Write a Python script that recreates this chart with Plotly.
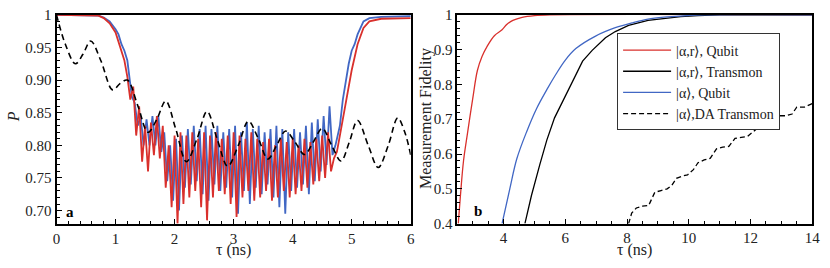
import plotly.graph_objects as go

# ---------------- Panel a data ----------------
red_pre_tau = [0.0, 0.5, 0.7, 0.8, 0.9, 1.0, 1.1, 1.15]
red_pre_p = [1.0, 1.0, 0.999, 0.995, 0.987, 0.973, 0.945, 0.93]
red_osc_tau = [round(1.20 + 0.05 * i, 3) for i in range(71)]
red_osc_p = [0.905, 0.87, 0.89, 0.815, 0.86, 0.775, 0.83, 0.76, 0.835, 0.785,
             0.845, 0.78, 0.83, 0.735, 0.80, 0.705, 0.815, 0.68, 0.82, 0.71,
             0.815, 0.72, 0.82, 0.73, 0.81, 0.705, 0.82, 0.685, 0.815, 0.72,
             0.82, 0.73, 0.81, 0.725, 0.815, 0.71, 0.82, 0.69, 0.815, 0.72,
             0.81, 0.73, 0.82, 0.715, 0.81, 0.72, 0.805, 0.73, 0.81, 0.715,
             0.80, 0.72, 0.81, 0.73, 0.805, 0.72, 0.81, 0.725, 0.80, 0.73,
             0.81, 0.735, 0.805, 0.74, 0.81, 0.745, 0.815, 0.75, 0.82, 0.76,
             0.78]
red_post_tau = [4.75, 4.8, 4.9, 5.0, 5.1, 5.2, 5.3, 5.5, 6.0]
red_post_p = [0.79, 0.815, 0.865, 0.915, 0.955, 0.98, 0.99, 0.994, 0.995]

blue_pre_tau = [0.0, 0.5, 0.7, 0.8, 0.9, 1.0, 1.05, 1.1, 1.15, 1.2]
blue_pre_p = [1.0, 1.0, 0.999, 0.996, 0.99, 0.978, 0.97, 0.955, 0.945, 0.93]
blue_osc_tau = [round(1.225 + 0.05 * i, 3) for i in range(71)]
blue_osc_p = [0.91, 0.875, 0.865, 0.83, 0.845, 0.80, 0.84, 0.80, 0.845, 0.80,
              0.845, 0.79, 0.82, 0.745, 0.80, 0.715, 0.81, 0.70, 0.815, 0.735,
              0.825, 0.74, 0.83, 0.745, 0.825, 0.725, 0.83, 0.715, 0.825, 0.74,
              0.83, 0.73, 0.82, 0.735, 0.825, 0.72, 0.83, 0.695, 0.82, 0.73,
              0.835, 0.71, 0.825, 0.735, 0.83, 0.725, 0.82, 0.74, 0.825, 0.72,
              0.83, 0.705, 0.825, 0.695, 0.82, 0.73, 0.825, 0.735, 0.82, 0.74,
              0.83, 0.725, 0.835, 0.745, 0.84, 0.76, 0.845, 0.77, 0.86, 0.785,
              0.80]
blue_post_tau = [4.8, 4.85, 4.9, 4.95, 5.0, 5.05, 5.1, 5.2, 5.3, 5.5, 6.0]
blue_post_p = [0.83, 0.87, 0.90, 0.925, 0.945, 0.955, 0.97, 0.99, 0.995, 0.997, 0.998]

dash_a_tau = [0.0, 0.15, 0.32, 0.45, 0.58, 0.75, 0.95, 1.08, 1.2, 1.38, 1.55, 1.7, 1.85,
              2.02, 2.2, 2.38, 2.55, 2.72, 2.9, 3.08, 3.25, 3.42, 3.58, 3.73, 3.88,
              4.04, 4.2, 4.35, 4.5, 4.66, 4.82, 4.96, 5.1, 5.28, 5.45, 5.62, 5.78, 5.9, 6.0]
dash_a_p = [1.0, 0.955, 0.925, 0.94, 0.96, 0.93, 0.885, 0.895, 0.90, 0.86, 0.82, 0.84, 0.868,
            0.825, 0.775, 0.81, 0.852, 0.81, 0.768, 0.80, 0.837, 0.81, 0.779, 0.80, 0.822,
            0.805, 0.786, 0.805, 0.826, 0.80, 0.776, 0.805, 0.838, 0.80, 0.766, 0.80, 0.842, 0.82, 0.785]

# ---------------- Panel b data ----------------
fid_red_tau = [2.53, 2.6, 2.7, 2.83, 3.0, 3.15, 3.3, 3.47, 3.7, 3.95, 4.1, 4.3, 4.6, 5.0, 5.5, 14.0]
fid_red_p = [0.40, 0.48, 0.58, 0.66, 0.76, 0.84, 0.88, 0.91, 0.94, 0.957, 0.972, 0.984, 0.993, 0.998, 1.0, 1.0]

fid_blue_tau = [3.95, 4.2, 4.43, 4.75, 5.07, 5.4, 5.7, 6.0, 6.34, 6.98, 7.62, 8.2, 8.68, 9.3, 9.95, 10.5, 14.0]
fid_blue_p = [0.40, 0.50, 0.587, 0.665, 0.731, 0.785, 0.83, 0.87, 0.903, 0.939, 0.963, 0.978, 0.988, 0.994, 0.998, 1.0, 1.0]

fid_black_tau = [4.69, 4.9, 5.17, 5.4, 5.65, 5.85, 6.1, 6.35, 6.56, 6.87, 7.3, 7.62, 8.05, 8.68, 9.2, 9.74, 10.3, 11.0, 14.0]
fid_black_p = [0.40, 0.48, 0.569, 0.64, 0.704, 0.74, 0.785, 0.83, 0.867, 0.898, 0.934, 0.952, 0.97, 0.984, 0.99, 0.995, 0.998, 1.0, 1.0]

fid_dash_tau = [8.05, 8.15, 8.3, 8.5, 8.7, 8.9, 9.1, 9.3, 9.45, 9.6, 9.8, 9.96, 10.15, 10.3, 10.5, 10.7,
                10.9, 11.1, 11.3, 11.5, 11.7, 11.9, 12.1, 12.3, 12.5, 12.7, 12.95, 13.15, 13.35, 13.5, 13.75, 14.0]
fid_dash_p = [0.40, 0.43, 0.445, 0.45, 0.452, 0.49, 0.495, 0.50, 0.51, 0.53, 0.537, 0.54, 0.555, 0.575, 0.583, 0.588,
              0.615, 0.62, 0.622, 0.645, 0.648, 0.65, 0.665, 0.68, 0.682, 0.685, 0.71, 0.71, 0.715, 0.735, 0.735, 0.745]

# legend labels
lab_red = "|α,r⟩, Qubit"
lab_black = "|α,r⟩, Transmon"
lab_blue = "|α⟩, Qubit"
lab_dash = "|α⟩,DA Transmon"

# tick labels
a_xticks = [0, 1, 2, 3, 4, 5, 6]
a_yticks = [0.70, 0.75, 0.80, 0.85, 0.90, 0.95, 1.0]
a_ytext = ["0.70", "0.75", "0.80", "0.85", "0.90", "0.95", "1"]
b_xticks = [4, 6, 8, 10, 12, 14]
b_yticks = [0.4, 0.5, 0.6, 0.7, 0.8, 0.9, 1.0]
b_ytext = ["0.4", "0.5", "0.6", "0.7", "0.8", "0.9", "1"]

RED = "#d9302c"
BLUE = "#4167c4"
FONT = "Liberation Serif"

fig = go.Figure()

# Panel a
fig.add_trace(go.Scatter(x=blue_pre_tau + blue_osc_tau + blue_post_tau,
                         y=blue_pre_p + blue_osc_p + blue_post_p,
                         mode="lines", line=dict(color=BLUE, width=1.8),
                         showlegend=False, xaxis="x", yaxis="y"))
fig.add_trace(go.Scatter(x=red_pre_tau + red_osc_tau + red_post_tau,
                         y=red_pre_p + red_osc_p + red_post_p,
                         mode="lines", line=dict(color=RED, width=1.8),
                         showlegend=False, xaxis="x", yaxis="y"))
fig.add_trace(go.Scatter(x=dash_a_tau, y=dash_a_p, mode="lines",
                         line=dict(color="black", width=1.6, dash="6px,4px", shape="spline"),
                         showlegend=False, xaxis="x", yaxis="y"))

# Panel b
fig.add_trace(go.Scatter(x=fid_red_tau, y=fid_red_p, mode="lines", name=lab_red,
                         line=dict(color=RED, width=1.3, shape="spline"),
                         xaxis="x2", yaxis="y2"))
fig.add_trace(go.Scatter(x=fid_black_tau, y=fid_black_p, mode="lines", name=lab_black,
                         line=dict(color="black", width=1.3),
                         xaxis="x2", yaxis="y2"))
fig.add_trace(go.Scatter(x=fid_blue_tau, y=fid_blue_p, mode="lines", name=lab_blue,
                         line=dict(color=BLUE, width=1.3, shape="spline"),
                         xaxis="x2", yaxis="y2"))
fig.add_trace(go.Scatter(x=fid_dash_tau, y=fid_dash_p, mode="lines", name=lab_dash,
                         line=dict(color="black", width=1.3, dash="5px,3px"),
                         xaxis="x2", yaxis="y2"))

axis_common = dict(showline=True, linecolor="black", mirror=True, ticks="inside",
                   tickcolor="black", showgrid=False, zeroline=False,
                   ticklabeloverflow="allow",
                   tickfont=dict(family=FONT, size=15, color="#222"))

fig.update_layout(
    width=830, height=268, autosize=False,
    margin=dict(l=0, r=0, t=0, b=0),
    paper_bgcolor="white", plot_bgcolor="white",
    xaxis=dict(domain=[0.0642, 0.4972], range=[0, 6], anchor="y",
               tickvals=a_xticks, ticklen=5, linewidth=2,
               minor=dict(dtick=0.2, ticklen=3, ticks="inside", tickcolor="black"),
               **axis_common),
    yaxis=dict(domain=[0.1444, 0.9728], range=[0.68, 1.0], anchor="x",
               tickvals=a_yticks, ticktext=a_ytext, ticklen=5, linewidth=2,
               minor=dict(dtick=0.01, ticklen=3, ticks="inside", tickcolor="black"),
               **axis_common),
    xaxis2=dict(domain=[0.5542, 0.9880], range=[2.5, 14], anchor="y2",
                tickvals=b_xticks, ticklen=5, linewidth=1.5,
                minor=dict(dtick=0.5, ticklen=3, ticks="inside", tickcolor="black"),
                **axis_common),
    yaxis2=dict(domain=[0.1444, 0.9728], range=[0.4, 1.0], anchor="x2",
                tickvals=b_yticks, ticktext=b_ytext, ticklen=5, linewidth=1.5,
                minor=dict(dtick=0.02, ticklen=3, ticks="inside", tickcolor="black"),
                **axis_common),
    legend=dict(x=0.7495, y=0.899, xanchor="left", yanchor="top",
                bgcolor="white", bordercolor="#333", borderwidth=1,
                font=dict(family=FONT, size=14, color="#222"),
                itemwidth=48, tracegroupgap=0),
    font=dict(family=FONT, color="#222"),
)

ann_font = dict(family=FONT, size=16, color="#222")
fig.update_layout(annotations=[
    dict(text="τ (ns)", x=0.2807, y=0.04, xref="paper", yref="paper", showarrow=False,
         xanchor="center", yanchor="middle", font=ann_font),
    dict(text="τ (ns)", x=0.7711, y=0.04, xref="paper", yref="paper", showarrow=False,
         xanchor="center", yanchor="middle", font=ann_font),
    dict(text="<i>P</i>", x=0.012, y=0.57, xref="paper", yref="paper", showarrow=False,
         xanchor="center", yanchor="middle", textangle=-90, font=ann_font),
    dict(text="Measurement Fidelity", x=0.516, y=0.56, xref="paper", yref="paper", showarrow=False,
         xanchor="center", yanchor="middle", textangle=-90, font=ann_font),
    dict(text="<b>a</b>", x=0.0807, y=0.19, xref="paper", yref="paper", showarrow=False,
         xanchor="center", yanchor="middle", font=dict(family=FONT, size=15, color="black")),
    dict(text="<b>b</b>", x=0.580, y=0.194, xref="paper", yref="paper", showarrow=False,
         xanchor="center", yanchor="middle", font=dict(family=FONT, size=15, color="black")),
])

fig.write_html("out.html",
               post_script="document.body.style.margin='0';document.body.style.overflow='hidden';",
               config={"displayModeBar": False, "responsive": False})
